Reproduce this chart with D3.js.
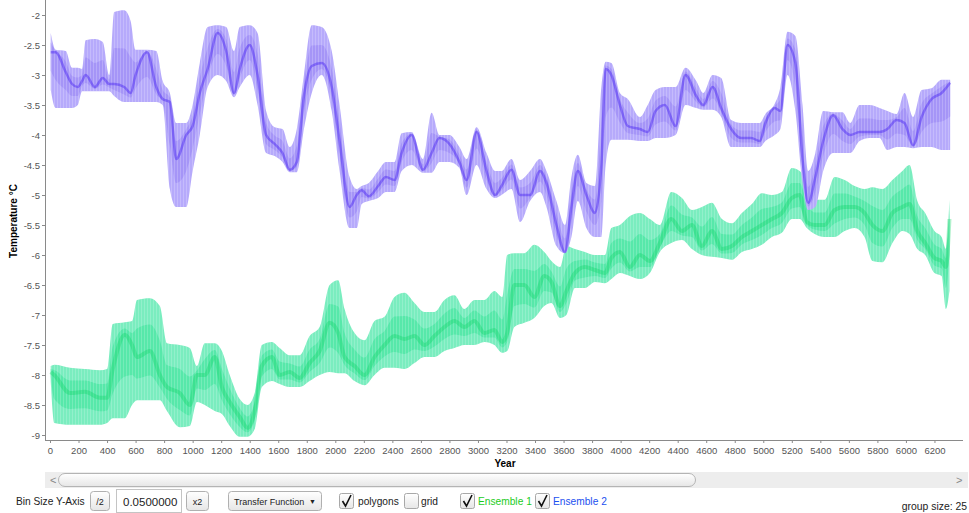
<!DOCTYPE html>
<html lang="en">
  <head>
    <meta charset="utf-8" />
    <script src="https://d3js.org/d3.v7.min.js"></script>
    <style type="text/css">
      body {
        margin: 0;
        background: white;
      }
      svg {
        display: block;
        font-family: "Liberation Sans", Arial, sans-serif;
      }
    </style>
  </head>

  <body>
    <svg id="chart" width="969" height="513"></svg>

    <script>
      // Ensemble 2 (blue) : envelope and dense centre
      let blueYears = [5, 40, 110, 155, 195, 225, 250, 315, 370, 415,
        450, 520, 565, 600, 680, 745, 790, 840, 885, 955,
        1000, 1050, 1105, 1175, 1235, 1290, 1330, 1400, 1455, 1515,
        1575, 1630, 1680, 1730, 1780, 1835, 1905, 1975, 2030, 2100,
        2150, 2185, 2235, 2300, 2355, 2415, 2465, 2535, 2615, 2675,
        2730, 2800, 2870, 2920, 2990, 3060, 3120, 3165, 3235, 3295,
        3365, 3435, 3480, 3550, 3610, 3655, 3700, 3760, 3820, 3865,
        3895, 3935, 3995, 4050, 4135, 4190, 4245, 4310, 4385, 4455,
        4530, 4580, 4645, 4705, 4775, 4845, 4915, 4975, 5015, 5080,
        5120, 5170, 5225, 5275, 5315, 5365, 5420, 5490, 5555, 5610,
        5675, 5745, 5815, 5870, 5935, 5990, 6050, 6110, 6180, 6250, 6310];
      let blueHi = [-2.3, -2.58, -2.6, -2.88, -2.88, -2.9, -2.42, -2.4, -2.45, -3.0,
        -1.95, -1.92, -2.1, -2.58, -2.58, -2.6, -3.1, -3.3, -3.8, -3.8,
        -3.5, -2.8, -2.2, -2.17, -2.2, -2.6, -2.2, -2.17, -2.3, -3.6,
        -3.87, -3.9, -4.2, -3.9, -3.0, -2.17, -2.2, -2.6, -3.5, -4.7,
        -4.9, -4.85, -4.8, -4.6, -4.45, -4.45, -3.97, -3.95, -4.4, -3.63,
        -4.0, -4.0, -4.2, -4.4, -3.87, -4.3, -4.6, -4.6, -4.4, -4.75,
        -4.6, -4.4, -4.6, -5.1, -5.5, -4.7, -4.33, -4.8, -4.85, -3.2,
        -2.78, -2.8, -3.3, -3.4, -3.7, -3.5, -3.25, -3.2, -3.2, -2.88,
        -3.1, -3.3, -3.0, -3.05, -3.75, -3.8, -3.8, -3.8, -3.65, -3.48,
        -3.2, -2.28, -2.35, -3.5, -4.6, -4.3, -3.6, -3.62, -3.62, -3.8,
        -3.5, -3.5, -3.55, -3.6, -3.65, -3.3, -3.7, -3.25, -3.22, -3.08, -3.08];
      let blueLo = [-3.25, -3.55, -3.55, -3.55, -3.5, -3.27, -3.27, -3.27, -3.27, -3.27,
        -3.35, -3.45, -3.45, -3.45, -3.45, -3.45, -3.5, -4.9, -5.2, -5.2,
        -4.6, -4.0, -3.2, -3.0, -3.1, -3.37, -3.2, -3.0, -3.5, -4.3,
        -4.35, -4.45, -4.62, -4.62, -3.9, -3.3, -3.0, -3.6, -4.6, -5.55,
        -5.55, -5.15, -5.1, -5.05, -4.95, -4.95, -4.6, -4.5, -4.63, -4.63,
        -4.45, -4.45, -4.55, -5.0, -4.5, -4.9, -5.05, -5.0, -4.9, -5.45,
        -5.1, -4.95, -5.2, -5.85, -5.97, -5.7, -5.1, -5.55, -5.7, -5.7,
        -4.5, -4.08, -4.08, -4.08, -4.1, -4.1, -4.05, -4.05, -4.0, -3.5,
        -3.55, -3.58, -3.58, -3.7, -4.2, -4.2, -4.2, -4.2, -4.1, -4.0,
        -3.9, -3.0, -3.6, -4.8, -5.25, -5.2, -4.6, -4.3, -4.3, -4.3,
        -4.1, -4.05, -4.05, -4.25, -4.2, -4.2, -4.22, -4.2, -4.2, -4.25, -4.25];
      let blueMid = [-2.62, -2.62, -2.95, -3.15, -3.2, -3.1, -3.0, -3.2, -3.05, -3.15,
        -3.15, -3.2, -3.3, -3.0, -2.62, -3.2, -3.4, -3.45, -4.4, -4.0,
        -3.85, -3.3, -2.9, -2.3, -2.6, -3.3, -2.9, -2.5, -3.0, -4.0,
        -4.15, -4.3, -4.58, -4.45, -3.35, -2.85, -2.8, -3.2, -4.1, -5.2,
        -5.0, -4.92, -5.02, -4.85, -4.7, -4.75, -4.3, -4.0, -4.58, -4.3,
        -4.05, -4.15, -4.45, -4.75, -3.95, -4.6, -5.0, -4.85, -4.58, -5.0,
        -5.0, -4.6, -4.8, -5.5, -5.95, -5.2, -4.6, -5.0, -5.3, -4.5,
        -2.9, -3.0, -3.5, -3.85, -3.9, -3.95, -3.6, -3.5, -3.85, -3.0,
        -3.35, -3.5, -3.2, -3.55, -3.9, -4.05, -4.05, -4.1, -3.8, -3.55,
        -3.6, -2.5, -2.8, -4.4, -5.13, -4.7, -4.1, -3.67, -3.9, -4.0,
        -3.95, -3.95, -3.95, -3.9, -3.75, -3.8, -4.17, -3.7, -3.4, -3.3, -3.13];

      // Ensemble 1 (green)
      let greenYears = [5, 30, 140, 245, 350, 400, 440, 525, 575, 610,
        700, 770, 820, 910, 980, 1030, 1085, 1155, 1205, 1260,
        1330, 1385, 1435, 1485, 1555, 1610, 1680, 1750, 1820, 1890,
        1960, 2020, 2065, 2135, 2205, 2275, 2345, 2415, 2485, 2555,
        2625, 2695, 2765, 2835, 2905, 2975, 3045, 3115, 3170, 3205,
        3255, 3325, 3395, 3465, 3515, 3575, 3620, 3680, 3750, 3820,
        3890, 3935, 3995, 4065, 4135, 4205, 4275, 4355, 4430, 4500,
        4570, 4640, 4710, 4780, 4850, 4920, 4990, 5060, 5130, 5200,
        5255, 5305, 5360, 5430, 5500, 5570, 5640, 5710, 5765, 5835,
        5905, 5975, 6025, 6080, 6135, 6200, 6250, 6280, 6305];
      let greenHi = [-7.85, -7.83, -7.88, -7.9, -7.92, -7.9, -7.15, -7.12, -7.1, -6.75,
        -6.72, -6.85, -7.47, -7.5, -7.55, -7.85, -7.47, -7.47, -7.6, -8.0,
        -8.4, -8.5, -8.3, -7.5, -7.45, -7.55, -7.67, -7.67, -7.35, -7.2,
        -6.5, -6.42, -6.9, -7.3, -7.42, -7.1, -7.03, -6.7, -6.63, -6.8,
        -6.95, -6.95, -6.75, -6.67, -6.9, -6.75, -6.75, -6.6, -6.7, -6.0,
        -5.97, -5.97, -5.83, -5.95, -6.1, -6.2, -5.85, -5.9, -5.95, -6.0,
        -6.0, -5.55, -5.5, -5.35, -5.3, -5.4, -5.5, -4.95, -5.05, -5.25,
        -5.2, -5.13, -5.4, -5.47, -5.3, -5.15, -4.97, -5.0, -4.95, -4.55,
        -4.6, -4.8, -5.08, -5.08, -4.7, -4.75, -4.85, -4.9, -4.87, -4.9,
        -4.75, -4.6, -4.5, -5.1, -5.3, -5.6, -5.7, -5.9, -5.08];
      let greenLo = [-8.1, -8.8, -8.83, -8.83, -8.83, -8.8, -8.72, -8.72, -8.5, -8.42,
        -8.42, -8.42, -8.6, -8.87, -8.85, -8.45, -8.5, -8.6, -8.65, -8.85,
        -9.03, -9.03, -8.9, -8.2, -8.1, -8.15, -8.2, -8.2, -8.1, -8.0,
        -7.95, -7.97, -7.97, -8.1, -8.17, -8.0, -7.88, -7.88, -7.9, -7.8,
        -7.7, -7.7, -7.6, -7.55, -7.5, -7.5, -7.45, -7.5, -7.63, -7.6,
        -7.2, -7.13, -7.05, -6.85, -6.8, -7.05, -7.0, -6.55, -6.55, -6.45,
        -6.47, -6.4, -6.3, -6.35, -6.4, -6.3, -5.95, -5.8, -5.75, -5.9,
        -6.0, -6.03, -6.05, -6.08, -5.95, -5.9, -5.83, -5.7, -5.63, -5.4,
        -5.4, -5.55, -5.65, -5.7, -5.7, -5.6, -5.55, -5.7, -6.1, -6.12,
        -5.8, -5.6, -5.65, -5.9, -6.0, -6.3, -6.35, -6.9, -6.6];
      let greenMid = [-7.95, -8.0, -8.3, -8.28, -8.38, -8.38, -7.9, -7.33, -7.5, -7.7,
        -7.6, -8.0, -8.2, -8.3, -8.5, -8.0, -8.0, -7.7, -8.2, -8.45,
        -8.7, -8.88, -8.6, -7.85, -7.7, -8.0, -7.95, -8.05, -7.8, -7.6,
        -7.13, -7.3, -7.7, -7.85, -8.0, -7.7, -7.5, -7.35, -7.4, -7.35,
        -7.5, -7.35, -7.2, -7.1, -7.2, -7.1, -7.3, -7.25, -7.45, -7.3,
        -6.5, -6.5, -6.7, -6.35, -6.45, -6.85, -6.6, -6.3, -6.2, -6.25,
        -6.3, -6.05, -5.95, -6.2, -6.0, -6.1, -5.8, -5.4, -5.6, -5.5,
        -5.85, -5.6, -5.9, -5.85, -5.7, -5.6, -5.5, -5.4, -5.3, -5.05,
        -5.0, -5.45, -5.5, -5.5, -5.25, -5.2, -5.2, -5.3, -5.5, -5.6,
        -5.3, -5.2, -5.15, -5.6, -5.8, -6.05, -6.1, -6.2, -5.4];

      let yTicks = d3.range(-9, -1.99, 0.5);
      let xTicks = d3.range(0, 6201, 200);

      let svg = d3.select("#chart");

      let x = d3.scaleLinear([-35, 6400], [45, 963]);
      let y = d3.scaleLinear([-9, -2], [435, 15]);

      svg.append("clipPath").attr("id", "plot-clip")
        .append("rect").attr("x", 46).attr("y", 0).attr("width", 918).attr("height", 440);

      let defs = svg.append("defs");
      [["stripe-blue", 0.2], ["stripe-green", 0.18]].forEach(function (p) {
        let pat = defs.append("pattern").attr("id", p[0])
          .attr("patternUnits", "userSpaceOnUse").attr("width", 3).attr("height", 8);
        pat.append("rect").attr("x", 0).attr("y", 0).attr("width", 1).attr("height", 8)
          .attr("fill", "#ffffff").attr("opacity", p[1]);
      });

      function draw_band(years, hi, lo, mid, colors) {
        let rows = years.map(function (yr, i) {
          return { yr: yr, hi: hi[i], lo: lo[i], mid: mid[i] };
        });
        let g = svg.append("g").attr("clip-path", "url(#plot-clip)");
        let curve = d3.curveMonotoneX;

        // full envelope
        g.append("path")
          .datum(rows)
          .attr("fill", colors.outer)
          .attr("d", d3.area().curve(curve)
            .x(d => x(d.yr)).y0(d => y(d.lo)).y1(d => y(d.hi)));

        // denser core round the centre
        g.append("path")
          .datum(rows)
          .attr("fill", colors.inner)
          .attr("opacity", 0.6)
          .attr("d", d3.area().curve(curve)
            .x(d => x(d.yr))
            .y0(d => y(d.mid - (d.mid - d.lo) * 0.5))
            .y1(d => y(d.mid + (d.hi - d.mid) * 0.5)));

        // striation of the member lines
        g.append("path")
          .datum(rows)
          .attr("fill", "url(#" + colors.pattern + ")")
          .attr("d", d3.area().curve(curve)
            .x(d => x(d.yr)).y0(d => y(d.lo)).y1(d => y(d.hi)));

        // most dense bins
        g.append("path")
          .datum(rows)
          .attr("fill", "none")
          .attr("stroke", colors.core)
          .attr("stroke-width", colors.coreWidth)
          .attr("stroke-opacity", colors.coreOpacity)
          .attr("d", d3.line().curve(curve).x(d => x(d.yr)).y(d => y(d.mid)));
      }

      draw_band(greenYears, greenHi, greenLo, greenMid, {
        outer: "#7aedbf", inner: "#3fe59c", pattern: "stripe-green",
        core: "#00d25a", coreWidth: 4, coreOpacity: 0.3
      });
      draw_band(blueYears, blueHi, blueLo, blueMid, {
        outer: "#b6aafb", inner: "#9a87f5", pattern: "stripe-blue",
        core: "#2a00f2", coreWidth: 2.5, coreOpacity: 0.35
      });

      // axes
      let axisColor = "#8a8a8a";
      let yAxis = svg.append("g")
        .attr("transform", "translate(45,0)")
        .call(d3.axisLeft(y).tickValues(yTicks).tickSize(3).tickPadding(2)
          .tickFormat(d => String(d)));
      let xAxis = svg.append("g")
        .attr("transform", "translate(0,440)")
        .call(d3.axisBottom(x).tickValues(xTicks).tickSize(3).tickPadding(4)
          .tickFormat(d => String(d)));
      [yAxis, xAxis].forEach(function (a) {
        a.select(".domain").remove();
        a.selectAll(".tick line").attr("stroke", axisColor);
        a.selectAll(".tick text").attr("fill", "#555").attr("font-size", "9.5px")
          .attr("font-family", "'Liberation Sans', Arial, sans-serif");
      });
      svg.append("line").attr("x1", 45.5).attr("x2", 45.5).attr("y1", 0).attr("y2", 440.5)
        .attr("stroke", axisColor);
      svg.append("line").attr("x1", 45).attr("x2", 963).attr("y1", 440.5).attr("y2", 440.5)
        .attr("stroke", axisColor);

      svg.append("text").attr("x", 505).attr("y", 467).attr("text-anchor", "middle")
        .attr("font-size", "10px").attr("font-weight", "bold").text("Year");
      svg.append("text").attr("transform", "translate(17,221) rotate(-90)")
        .attr("text-anchor", "middle").attr("font-size", "10px").attr("font-weight", "bold")
        .text("Temperature  °C");

      // scroll bar
      svg.append("rect").attr("x", 45).attr("y", 472).attr("width", 923).attr("height", 16)
        .attr("fill", "#ededed");
      let grad = defs.append("linearGradient").attr("id", "btn").attr("x1", 0).attr("x2", 0)
        .attr("y1", 0).attr("y2", 1);
      grad.append("stop").attr("offset", "0%").attr("stop-color", "#ffffff");
      grad.append("stop").attr("offset", "100%").attr("stop-color", "#e6e6e6");
      svg.append("rect").attr("x", 58.5).attr("y", 473.5).attr("width", 637).attr("height", 13)
        .attr("rx", 6.5).attr("fill", "url(#btn)").attr("stroke", "#b4b4b4");
      svg.append("text").attr("x", 50).attr("y", 484).attr("font-size", "11px")
        .attr("fill", "#888").text("<");
      svg.append("text").attr("x", 956).attr("y", 484).attr("font-size", "11px")
        .attr("fill", "#888").text(">");

      // control row
      let ui = svg.append("g").attr("font-size", "10.2px").attr("fill", "#222");
      function button(x0, w, label, size, anchorX) {
        ui.append("rect").attr("x", x0 + 0.5).attr("y", 491.5).attr("width", w).attr("height", 19)
          .attr("rx", 3).attr("fill", "url(#btn)").attr("stroke", "#b0b0b0");
        ui.append("text").attr("x", anchorX === undefined ? x0 + w / 2 + 0.5 : anchorX)
          .attr("y", 505).attr("text-anchor", anchorX === undefined ? "middle" : "start")
          .attr("font-size", size).text(label);
      }
      function checkbox(x0, checked) {
        ui.append("rect").attr("x", x0 + 0.5).attr("y", 493.5).attr("width", 14).attr("height", 15)
          .attr("rx", 2).attr("fill", "url(#btn)").attr("stroke", "#a8a8a8");
        if (checked) {
          ui.append("path").attr("d", `M${x0 + 3.5},${501} L${x0 + 6.5},${506} L${x0 + 12},${495}`)
            .attr("fill", "none").attr("stroke", "#111").attr("stroke-width", 1.6);
        }
      }
      ui.append("text").attr("x", 16).attr("y", 505).text("Bin Size Y-Axis");
      button(90, 19, "/2", "9px");
      ui.append("rect").attr("x", 116.5).attr("y", 489.5).attr("width", 65).attr("height", 23)
        .attr("fill", "white").attr("stroke", "#c4c4c4");
      ui.append("text").attr("x", 123).attr("y", 506).attr("font-size", "11.5px").text("0.0500000");
      button(186, 22, "x2", "9px");
      button(228, 93, "Transfer Function", "9px", 234);
      ui.append("text").attr("x", 309).attr("y", 504).attr("font-size", "7px").text("▼");
      checkbox(339, true);
      ui.append("text").attr("x", 358).attr("y", 505).text("polygons");
      checkbox(404, false);
      ui.append("text").attr("x", 421).attr("y", 505).text("grid");
      checkbox(460, true);
      ui.append("text").attr("x", 478).attr("y", 505).attr("fill", "#1ccc1c").text("Ensemble 1");
      checkbox(535, true);
      ui.append("text").attr("x", 553).attr("y", 505).attr("fill", "#2250f0").text("Ensemble 2");
      ui.append("text").attr("x", 967).attr("y", 510).attr("text-anchor", "end")
        .attr("font-size", "10.4px").text("group size: 25");
    </script>
  </body>
</html>
